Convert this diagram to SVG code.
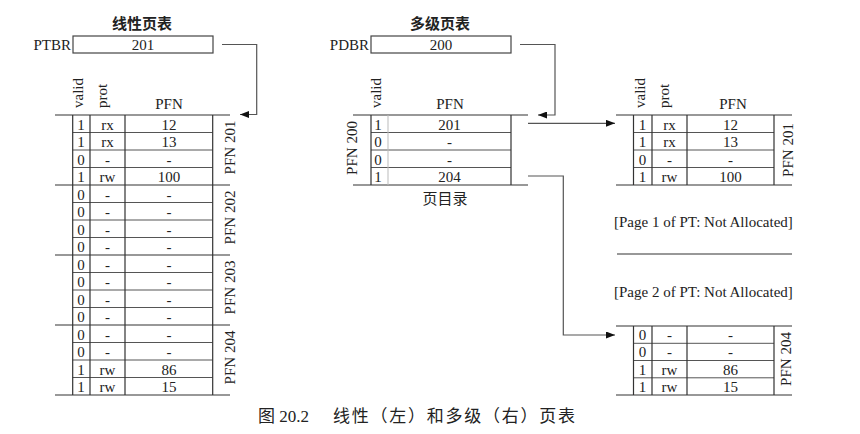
<svg xmlns="http://www.w3.org/2000/svg" width="860" height="434" viewBox="0 0 860 434">
<defs>
<style>
.t{font-family:"Liberation Serif","Times New Roman",serif;font-size:15px;fill:#222}
.c{text-anchor:middle}
.e{text-anchor:end}
.cjk{font-family:"Noto Sans CJK SC","Liberation Serif",sans-serif;fill:#222}
.ttl{font-size:15px;font-weight:bold;text-anchor:middle}
.ln{stroke:#333;stroke-width:1.2;fill:none}
.in{stroke:#555;stroke-width:1;fill:none}
.lt{stroke:#bbb;stroke-width:1;fill:none}
.box{fill:#fff;stroke:#444;stroke-width:1.2}
.cn{stroke:#555;stroke-width:1.2;fill:none;marker-end:url(#ah)}
</style>
<marker id="ah" viewBox="0 0 9 7" refX="9" refY="3.5" markerWidth="9" markerHeight="7" markerUnits="userSpaceOnUse" orient="auto">
<path d="M0,0 L9,3.5 L0,7 z" fill="#111"/>
</marker>
</defs>
<rect width="860" height="434" fill="#fff"/>

<!-- Linear page table -->
<g id="linear-title"><text class="cjk ttl" x="142" y="29">线性页表</text></g>
<g id="ptbr">
<text class="t e" x="71" y="50">PTBR</text>
<rect class="box" x="73" y="36" width="140" height="17"/>
<text class="t c" x="143" y="50">201</text>
</g>
<g id="linear-table">
<text class="t" transform="translate(83,108) rotate(-90)">valid</text>
<text class="t" transform="translate(107,108) rotate(-90)">prot</text>
<text class="t c" x="169" y="109">PFN</text>
<path class="ln" d="M55,115H230M55,185H230M55,255H230M55,325H230M55,395H230"/>
<path class="in" d="M72.7,132.5H212.7M72.7,150H212.7M72.7,167.5H212.7M72.7,202.5H212.7M72.7,220H212.7M72.7,237.5H212.7M72.7,272.5H212.7M72.7,290H212.7M72.7,307.5H212.7M72.7,342.5H212.7M72.7,360H212.7M72.7,377.5H212.7"/>
<path class="ln" d="M72.7,115V395M90,115V395M125,115V395M212.7,115V395"/>
<g class="t c">
<text x="81" y="129.5">1</text><text x="107.5" y="129.5">rx</text><text x="169" y="129.5">12</text>
<text x="81" y="147">1</text><text x="107.5" y="147">rx</text><text x="169" y="147">13</text>
<text x="81" y="164.5">0</text><text x="107.5" y="164.5">-</text><text x="169" y="164.5">-</text>
<text x="81" y="182">1</text><text x="107.5" y="182">rw</text><text x="169" y="182">100</text>
<text x="81" y="199.5">0</text><text x="107.5" y="199.5">-</text><text x="169" y="199.5">-</text>
<text x="81" y="217">0</text><text x="107.5" y="217">-</text><text x="169" y="217">-</text>
<text x="81" y="234.5">0</text><text x="107.5" y="234.5">-</text><text x="169" y="234.5">-</text>
<text x="81" y="252">0</text><text x="107.5" y="252">-</text><text x="169" y="252">-</text>
<text x="81" y="269.5">0</text><text x="107.5" y="269.5">-</text><text x="169" y="269.5">-</text>
<text x="81" y="287">0</text><text x="107.5" y="287">-</text><text x="169" y="287">-</text>
<text x="81" y="304.5">0</text><text x="107.5" y="304.5">-</text><text x="169" y="304.5">-</text>
<text x="81" y="322">0</text><text x="107.5" y="322">-</text><text x="169" y="322">-</text>
<text x="81" y="339.5">0</text><text x="107.5" y="339.5">-</text><text x="169" y="339.5">-</text>
<text x="81" y="357">0</text><text x="107.5" y="357">-</text><text x="169" y="357">-</text>
<text x="81" y="374.5">1</text><text x="107.5" y="374.5">rw</text><text x="169" y="374.5">86</text>
<text x="81" y="392">1</text><text x="107.5" y="392">rw</text><text x="169" y="392">15</text>
</g>
<text class="t c" transform="translate(235,147.5) rotate(-90)">PFN 201</text>
<text class="t c" transform="translate(235,217.5) rotate(-90)">PFN 202</text>
<text class="t c" transform="translate(235,287.5) rotate(-90)">PFN 203</text>
<text class="t c" transform="translate(235,357.5) rotate(-90)">PFN 204</text>
</g>

<!-- Multi-level page table -->
<g id="multi-title"><text class="cjk ttl" x="440" y="29">多级页表</text></g>
<g id="pdbr">
<text class="t e" x="369" y="50">PDBR</text>
<rect class="box" x="371" y="36" width="140" height="17"/>
<text class="t c" x="441" y="50">200</text>
</g>
<g id="page-directory">
<text class="t" transform="translate(381,108) rotate(-90)">valid</text>
<text class="t c" x="450" y="109">PFN</text>
<path class="ln" d="M353,115H528M353,185H528"/>
<path class="in" d="M371,132.5H511M371,150H511M371,167.5H511"/>
<path class="lt" d="M388,115V185"/>
<path class="ln" d="M371,115V185M511,115V185"/>
<g class="t c">
<text x="378" y="129.5">1</text><text x="449.5" y="129.5">201</text>
<text x="378" y="147">0</text><text x="449.5" y="147">-</text>
<text x="378" y="164.5">0</text><text x="449.5" y="164.5">-</text>
<text x="378" y="182">1</text><text x="449.5" y="182">204</text>
</g>
<text class="t c" transform="translate(357,148) rotate(-90)">PFN 200</text>
<text class="cjk c" style="font-size:15px" x="445" y="204">页目录</text>
</g>

<g id="pt-page-201">
<text class="t" transform="translate(645,108) rotate(-90)">valid</text>
<text class="t" transform="translate(669,108) rotate(-90)">prot</text>
<text class="t c" x="733" y="109">PFN</text>
<path class="ln" d="M616,115H792M616,185H792"/>
<path class="in" d="M633.5,132.5H774M633.5,150H774M633.5,167.5H774"/>
<path class="ln" d="M633.5,115V185M652,115V185M687,115V185M774,115V185"/>
<g class="t c">
<text x="642.5" y="129.5">1</text><text x="669.5" y="129.5">rx</text><text x="730.5" y="129.5">12</text>
<text x="642.5" y="147">1</text><text x="669.5" y="147">rx</text><text x="730.5" y="147">13</text>
<text x="642.5" y="164.5">0</text><text x="669.5" y="164.5">-</text><text x="730.5" y="164.5">-</text>
<text x="642.5" y="182">1</text><text x="669.5" y="182">rw</text><text x="730.5" y="182">100</text>
</g>
<text class="t c" transform="translate(793,150) rotate(-90)">PFN 201</text>
</g>

<g id="pt-page-1">
<text class="t" x="614" y="227">[Page 1 of PT: Not Allocated]</text>
<path class="ln" d="M617,254H792"/>
</g>
<g id="pt-page-2">
<text class="t" x="614" y="297">[Page 2 of PT: Not Allocated]</text>
</g>

<g id="pt-page-204">
<path class="ln" d="M616,326H792M616,395H792"/>
<path class="in" d="M633.5,343.3H774M633.5,360.5H774M633.5,377.8H774"/>
<path class="ln" d="M633.5,326V395M652,326V395M687,326V395M774,326V395"/>
<g class="t c">
<text x="642.5" y="340">0</text><text x="669.5" y="340">-</text><text x="730.5" y="340">-</text>
<text x="642.5" y="357.3">0</text><text x="669.5" y="357.3">-</text><text x="730.5" y="357.3">-</text>
<text x="642.5" y="374.5">1</text><text x="669.5" y="374.5">rw</text><text x="730.5" y="374.5">86</text>
<text x="642.5" y="391.8">1</text><text x="669.5" y="391.8">rw</text><text x="730.5" y="391.8">15</text>
</g>
<text class="t c" transform="translate(791,359) rotate(-90)">PFN 204</text>
</g>

<g id="connectors">
<path class="cn" d="M222,44.5H256.7V114.5H240"/>
<path class="cn" d="M520,44.5H555V115H538"/>
<path class="cn" d="M528,123.3H615"/>
<path class="cn" d="M528,176H563.3V335H615"/>
</g>

<g id="caption">
<text class="t" style="font-size:17px" x="258" y="422"><tspan class="cjk" style="font-size:17px">图</tspan> 20.2</text>
<text class="cjk" style="font-size:17px" x="333" y="422" textLength="242" lengthAdjust="spacing">线性（左）和多级（右）页表</text>
</g>
</svg>
